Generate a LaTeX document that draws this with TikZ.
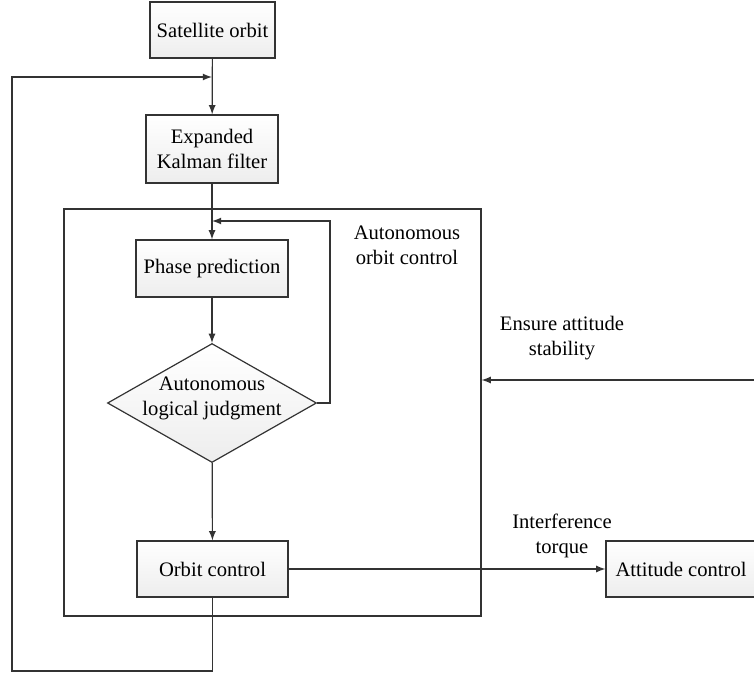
\documentclass[tikz,border=0pt]{standalone}
\usepackage{fontspec}
\setmainfont{Liberation Serif}
\usetikzlibrary{shapes,arrows,positioning,calc}

\begin{document}
\begin{tikzpicture}[x=0.5pt,y=-0.5pt,
	font=\fontsize{10.3pt}{12.5pt}\selectfont,
	>=latex, line width=0.6pt, draw=black!80,
	blockbox/.style={draw=black!80, rectangle, inner sep=0pt, align=center,
		top color=white, bottom color=black!7},
	plaintext/.style={align=center, inner sep=0pt}]
	\useasboundingbox (0,0) rectangle (754,674);
	% blocks
	\node[blockbox, minimum width=62.5pt, minimum height=28pt] (orbitin) at (212.5,30) {Satellite orbit};
	\node[blockbox, minimum width=66pt, minimum height=34pt] (ekf) at (212,149) {Expanded\\Kalman filter};
	\node[draw=black!80, rectangle, minimum width=208.5pt, minimum height=203.5pt, inner sep=0pt] (frame) at (272.5,412.5) {};
	\node[blockbox, minimum width=76pt, minimum height=28.5pt] (phase) at (212,268.5) {Phase prediction};
	\node[draw=black!80, diamond, inner sep=0pt, minimum width=104.5pt, minimum height=59.5pt,
		top color=white, bottom color=black!7] (judge) at (212,403) {};
	\node[plaintext] (judgetext) at (212,398) {Autonomous\\logical judgment};
	\node[blockbox, minimum width=75.5pt, minimum height=28pt] (orbitctl) at (212.5,569) {Orbit control};
	\node[blockbox, minimum width=75pt, minimum height=28pt] (attctl) at (681,569) {Attitude control};
	% labels
	\node[plaintext] (framelabel) at (407,245) {Autonomous\\orbit control};
	\node[plaintext] (ensurelabel) at (562,338) {Ensure attitude\\stability};
	\node[plaintext] (torquelabel) at (562,536) {Interference\\torque};
	% connectors
	\coordinate (loopbl) at (12,671);
	\coordinate (looptop) at (212,77);
	\coordinate (fbk) at (330,221);
	\coordinate (fbkin) at (212,221);
	\coordinate (ensin) at (754,380);
	\draw[->] (orbitin) -- (ekf);
	\draw[->] (orbitctl.south) |- (loopbl) |- (looptop);
	\draw[->] (ekf) -- (phase);
	\draw[->] (phase) -- (judge);
	\draw[->] (judge.east) -| (fbk) -- (fbkin);
	\draw[->] (judge) -- (orbitctl);
	\draw[->] (orbitctl) -- (attctl);
	\draw[->] (ensin) -- (ensin -| frame.east);
\end{tikzpicture}
\end{document}
